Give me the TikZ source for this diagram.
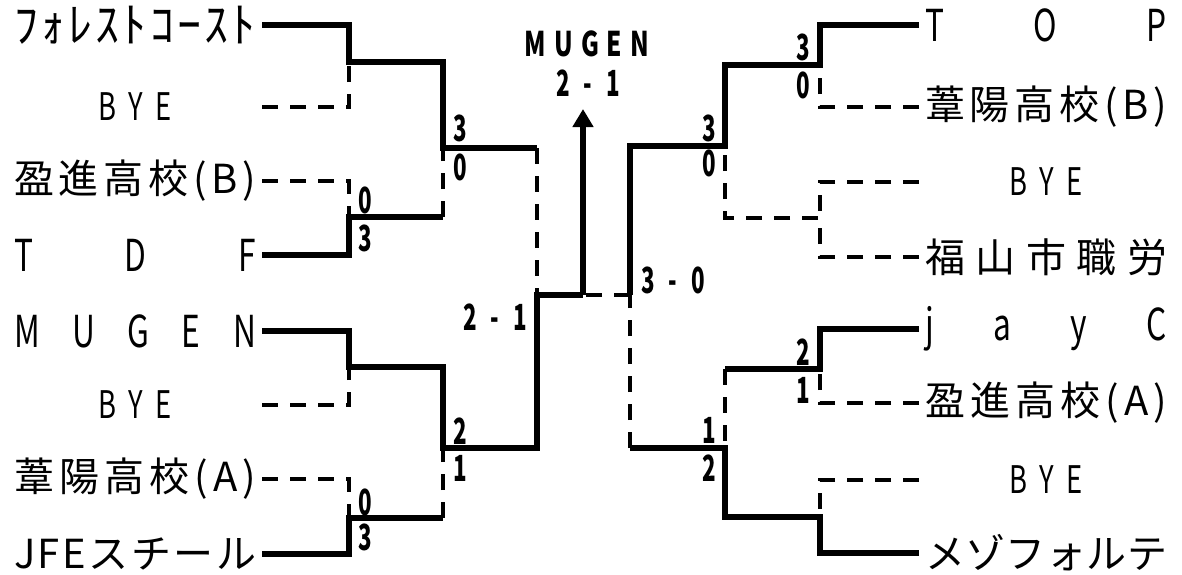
\documentclass[tikz,border=0pt]{standalone}
\usepackage{fontspec}
\setmainfont{Noto Sans CJK JP}
\newfontfamily\narrowfont{Noto Sans CJK JP}[FakeStretch=0.72]
\newfontfamily\scorefont{Noto Sans CJK JP}[FakeStretch=0.62]
\usetikzlibrary{arrows.meta}
\newcommand{\spread}[1]{\hbox to 121pt{#1}}
\tikzset{
  >={Triangle[length=9pt,width=10pt]},
  team/.style={inner sep=0pt,outer xsep=3pt,font=\fontsize{20pt}{22pt}\selectfont},
  kana/.style={team,font=\fontsize{24pt}{26pt}\selectfont},
  latin/.style={team,font=\narrowfont\fontsize{22pt}{24pt}\selectfont},
  bye/.style={team,font=\narrowfont\fontsize{19pt}{22pt}\selectfont},
  win/.style={line width=2.8pt},
  lose/.style={line width=2.1pt,dash pattern=on 8pt off 6pt},
  score/.style={inner sep=0pt,font=\scorefont\bfseries\fontsize{18pt}{20pt}\selectfont},
  title/.style={inner sep=0pt,font=\narrowfont\bfseries\fontsize{17pt}{19pt}\selectfont},
}

\begin{document}
\begin{tikzpicture}[x=0.5pt,y=-0.5pt]
  \useasboundingbox (0,0) rectangle (1182,574);
  % left half
  \node[kana,anchor=west] (n1) at (8,25) {\spread{ﾌ\hfill ｫ\hfill ﾚ\hfill ｽ\hfill ﾄ\hfill ｺ\hfill ｰ\hfill ｽ\hfill ﾄ}};
  \node[bye,anchor=west] (n2) at (8,107) {\spread{\hfil B\hspace{6pt}Y\hspace{6pt}E\hfil}};
  \node[team,anchor=west] (n3) at (8,181) {\spread{盈\hfill 進\hfill 高\hfill 校\hfill (\hfill B\hfill )}};
  \node[latin,anchor=west] (n4) at (8,255) {\spread{T\hfill D\hfill F}};
  \node[latin,anchor=west] (n5) at (8,331) {\spread{M\hfill U\hfill G\hfill E\hfill N}};
  \node[bye,anchor=west] (n6) at (8,405) {\spread{\hfil B\hspace{6pt}Y\hspace{6pt}E\hfil}};
  \node[team,anchor=west] (n7) at (8,479) {\spread{葦\hfill 陽\hfill 高\hfill 校\hfill (\hfill A\hfill )}};
  \node[team,anchor=west] (n8) at (8,554) {\spread{J\hfill F\hfill E\hfill ス\hfill チ\hfill ー\hfill ル}};
  % right half
  \node[latin,anchor=west] (m1) at (919,25) {\spread{T\hfill O\hfill P}};
  \node[team,anchor=west] (m2) at (919,107) {\spread{葦\hfill 陽\hfill 高\hfill 校\hfill (\hfill B\hfill )}};
  \node[bye,anchor=west] (m3) at (919,182) {\spread{\hfil B\hspace{6pt}Y\hspace{6pt}E\hfil}};
  \node[team,anchor=west] (m4) at (919,257) {\spread{福\hfill 山\hfill 市\hfill 職\hfill 労}};
  \node[latin,anchor=west] (m5) at (919,329) {\spread{j\hfill a\hfill y\hfill C}};
  \node[team,anchor=west] (m6) at (919,403) {\spread{盈\hfill 進\hfill 高\hfill 校\hfill (\hfill A\hfill )}};
  \node[bye,anchor=west] (m7) at (919,480) {\spread{\hfil B\hspace{6pt}Y\hspace{6pt}E\hfil}};
  \node[team,anchor=west] (m8) at (919,553) {\spread{メ\hfill ゾ\hfill フ\hfill ォ\hfill ル\hfill テ}};
  % joints
  \coordinate (a1) at (349,62);
  \coordinate (a2) at (349,217);
  \coordinate (a3) at (349,367);
  \coordinate (a4) at (349,518);
  \coordinate (b1) at (443,148);
  \coordinate (b2) at (443,448);
  \coordinate (c1) at (537,295);
  \coordinate (fin) at (583,295);
  \coordinate (champ) at (583,109);
  \coordinate (c2) at (630,295);
  \coordinate (b3) at (725,146);
  \coordinate (b4) at (725,448);
  \coordinate (a5) at (820,65);
  \coordinate (a6) at (820,218);
  \coordinate (a7) at (820,369);
  \coordinate (a8) at (820,517);
  % left lines
  \draw[win] (n1.east) -| (a1) -| (b1) -- (b1 -| c1);
  \draw[lose] (b1 -| c1) -- (c1);
  \draw[lose] (n2.east) -| (a1);
  \draw[lose] (n3.east) -| (a2);
  \draw[win] (n4.east) -| (a2) -- (a2 -| b1);
  \draw[lose] (a2 -| b1) -- (b1);
  \draw[win] (n5.east) -| (a3) -| (b2) -| (c1) -- (fin);
  \draw[win,->] (fin) -- (champ);
  \draw[lose] (n6.east) -| (a3);
  \draw[lose] (n7.east) -| (a4);
  \draw[win] (n8.east) -| (a4) -- (a4 -| b2);
  \draw[lose] (a4 -| b2) -- (b2);
  % right lines
  \draw[win] (m1.west) -| (a5) -| (b3) -| (c2);
  \draw[lose] (c2) -- (fin);
  \draw[lose] (m2.west) -| (a5);
  \draw[lose] (m3.west) -| (a6);
  \draw[lose] (m4.west) -| (a6) -| (b3);
  \draw[win] (m5.west) -| (a7) -- (a7 -| b4);
  \draw[lose] (a7 -| b4) -- (b4);
  \draw[lose] (m6.west) -| (a7);
  \draw[lose] (m7.west) -| (a8);
  \draw[win] (m8.west) -| (a8) -| (b4) -- (b4 -| c2);
  \draw[lose] (b4 -| c2) -- (c2);
  % scores
  \node[title] (t1) at (587,44) {M\hspace{4pt}U\hspace{4pt}G\hspace{4pt}E\hspace{4pt}N};
  \node[score] (t2) at (588,83) {2\hspace{7pt}-\hspace{7pt}1};
  \node[score] (s1) at (365,200) {0};
  \node[score] (s2) at (365,238) {3};
  \node[score] (s3) at (365,502) {0};
  \node[score] (s4) at (365,537) {3};
  \node[score] (s5) at (460,128) {3};
  \node[score] (s6) at (460,167) {0};
  \node[score] (s7) at (460,431) {2};
  \node[score] (s8) at (460,468) {1};
  \node[score] (s9) at (495,317) {2\hspace{7pt}-\hspace{7pt}1};
  \node[score] (s10) at (803,47) {3};
  \node[score] (s11) at (803,85) {0};
  \node[score] (s12) at (803,352) {2};
  \node[score] (s13) at (803,390) {1};
  \node[score] (s14) at (709,128) {3};
  \node[score] (s15) at (709,163) {0};
  \node[score] (s16) at (709,430) {1};
  \node[score] (s17) at (709,468) {2};
  \node[score] (s18) at (673,280) {3\hspace{7pt}-\hspace{7pt}0};
\end{tikzpicture}
\end{document}
